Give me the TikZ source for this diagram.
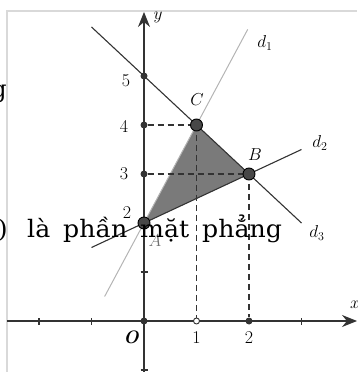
\documentclass[tikz,border=0pt]{standalone}
\usepackage{fontspec}
\newfontfamily\vnfont{DejaVu Serif}
\usetikzlibrary{arrows.meta}
\definecolor{axisgray}{HTML}{333333}
\definecolor{regiongray}{HTML}{7A7A7A}
\definecolor{lightline}{HTML}{B4B4B4}
\definecolor{framegray}{HTML}{D9D9D9}

\begin{document}
\begin{tikzpicture}[x=52.5pt, y=49pt,
    axis/.style={-{Stealth[length=15pt, width=12pt, inset=5pt]}, axisgray, line width=1.3pt},
    tick/.style={axisgray, line width=1.3pt},
    guide/.style={dash pattern=on 6pt off 4pt, axisgray, line width=1.1pt},
    dot/.style={circle, fill=axisgray, inner sep=0pt, minimum size=7pt},
    vertex/.style={circle, draw=black, fill=axisgray!90, line width=0.9pt, inner sep=0pt, minimum size=12pt},
    lbl/.style={font=\fontsize{18}{18}\selectfont, inner sep=0pt},
    word/.style={font=\vnfont\fontsize{24}{24}\selectfont, anchor=base west, inner sep=0pt, xscale=1.05, transform shape},
]
\useasboundingbox (-144pt,-51pt) rectangle (213pt,321pt);

% Frame of the screenshot
\draw[framegray, line width=1.2pt] (-137pt,-60pt) -- (-137pt,310pt) -- (213pt,310pt);

% Vertices
\coordinate (A) at (0,2);
\coordinate (B) at (2,3);
\coordinate (C) at (1,4);

% Feasible region
\fill[regiongray] (A) -- (B) -- (C) -- cycle;

% Lines d1, d2, d3
\coordinate (d1s) at (-0.75,0.5);
\coordinate (d1e) at (1.975,5.95);
\coordinate (d2s) at (-1,1.5);
\coordinate (d2e) at (3,3.5);
\coordinate (d3s) at (-1,6);
\coordinate (d3e) at (3,2);
\draw[lightline, line width=1pt] (d1s) -- (d1e);
\draw[axisgray, line width=1.1pt] (d2s) -- (d2e);
\draw[axisgray, line width=1.1pt] (d3s) -- (d3e);

% Axes
\coordinate (xs) at (-137pt,0);
\coordinate (xe) at (213pt,0);
\coordinate (ys) at (0,-60pt);
\coordinate (ye) at (0,309pt);
\draw[axis] (xs) -- (xe);
\draw[axis] (ys) -- (ye);
\foreach \t in {-2,-1,3}
    \draw[tick] (\t,-3.5pt) -- (\t,3.5pt);
\foreach \t in {-1,1}
    \draw[tick] (-3.5pt,\t) -- (3.5pt,\t);

% Points on the axes
\node[dot] (O) at (0,0) {};
\node[dot] (y5) at (0,5) {};
\node[dot] (y4) at (0,4) {};
\node[dot] (y3) at (0,3) {};
\node[dot] (x2) at (2,0) {};
\node[dot, fill=white, draw=axisgray, line width=0.9pt, minimum size=6pt] (x1) at (1,0) {};

% Projections
\draw[guide] (y4) -- (C);
\draw[guide] (y3) -- (B);
\draw[guide] (C) -- (x1);
\draw[guide] (B) -- (x2);

\node[vertex] (vA) at (A) {};
\node[vertex] (vB) at (B) {};
\node[vertex] (vC) at (C) {};

% Labels
\node[lbl] (ly) at (14pt,304pt) {$y$};
\node[lbl] (lx) at (211pt,16pt) {$x$};
\node[lbl] (l5) at (-18pt,240pt) {5};
\node[lbl] (l4) at (-20pt,195pt) {4};
\node[lbl] (l3) at (-20pt,147pt) {3};
\node[lbl] (l2) at (-17pt,108pt) {2};
\node[lbl] (lO) at (-13pt,-16pt) {\bfseries\itshape O};
\node[lbl] (l1) at (1,-17pt) {1};
\node[lbl] (l2x) at (2,-17pt) {2};
\node[lbl] (lC) at (53pt,221pt) {$C$};
\node[lbl] (lB) at (111pt,166pt) {$B$};
\node[lbl, text=axisgray!70] (lA) at (11pt,80pt) {$A$};
\node[lbl] (ld1) at (121pt,278pt) {$d_1$};
\node[lbl] (ld2) at (176pt,178pt) {$d_2$};
\node[lbl] (ld3) at (173pt,88pt) {$d_3$};

% Text of the page behind
\node[font=\vnfont\fontsize{24}{24}\selectfont, anchor=base east, inner sep=0pt] (tg) at (-137pt,223pt) {g};
\node[word, anchor=base east] (t0) at (-136pt,83pt) {)};
\node[word] (t1) at (-117pt,83pt) {là};
\node[word] (t2) at (-81pt,83pt) {phần};
\node[word] (t3) at (-4pt,83pt) {mặt};
\node[word] (t4) at (58pt,83pt) {phẳng};

\end{tikzpicture}
\end{document}
